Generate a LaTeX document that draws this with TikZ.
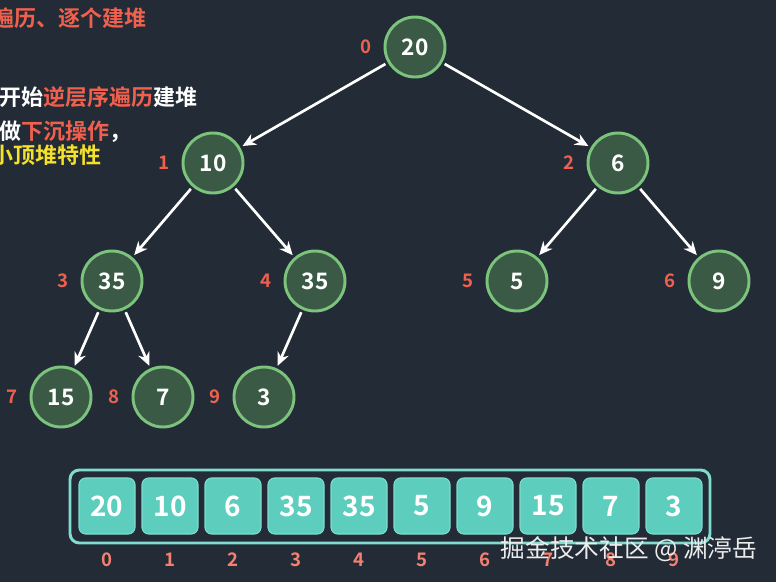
\documentclass[tikz,border=0pt]{standalone}
\usepackage{fontspec}
\setmainfont{Noto Sans CJK SC}[BoldFont={Noto Sans CJK SC Bold}]
\usetikzlibrary{arrows.meta}
\definecolor{bg}{HTML}{222B36}
\definecolor{nfill}{HTML}{3B5A45}
\definecolor{nline}{HTML}{7CC47C}
\definecolor{ired}{HTML}{F0604D}
\definecolor{cell}{HTML}{5DCDBE}
\definecolor{cellb}{HTML}{7FDCCF}
\definecolor{yel}{HTML}{F5E02A}
\begin{document}
\begin{tikzpicture}[x=0.75pt,y=-0.75pt,
  hn/.style={circle,draw=nline,line width=2.2pt,fill=nfill,text=white,font=\bfseries\fontsize{17}{17}\selectfont,inner sep=0pt,minimum size=45pt},
  idx/.style={text=ired,font=\bfseries\fontsize{14}{14}\selectfont},
  ar/.style={draw=white,line width=2pt,-{Stealth[length=10pt,width=9pt]},shorten <=2pt,shorten >=2pt},
  cl/.style={rounded corners=5pt,fill=cell,draw=cellb,line width=0.8pt,minimum width=42pt,minimum height=42pt,text=white,font=\bfseries\fontsize{21}{21}\selectfont,inner sep=0pt},
  t/.style={anchor=west,font=\bfseries\fontsize{16.5}{16.5}\selectfont}]
\fill[bg] (0,0) rectangle (776,582);
\clip (0,0) rectangle (776,582);
\node[t,text=ired] (h) at (-12,18) {遍历、逐个建堆};
\node[t,text=white] (l1) at (-5,97) {开始\textcolor{ired}{逆层序遍历}建堆};
\node[t,text=white] (l2) at (-5,132) {做\textcolor{ired}{下沉操作}，};
\node[t,text=yel] (l3) at (-13,155) {小顶堆特性};
\foreach \n/\x/\y/\v/\i in {a/415/47/20/0,b/213/163/10/1,c/618/163/6/2,d/112/281/35/3,e/315/281/35/4,f/517/281/5/5,g/719/281/9/6,h1/61/397/15/7,i/163/397/7/8,j/264/397/3/9}{
  \node[hn] (\n) at (\x,\y) {\v};
  \node[idx] (\n l) at (\x-49,\y) {\i};
}
\draw[ar] (a) -- (b); \draw[ar] (a) -- (c);
\draw[ar] (b) -- (d); \draw[ar] (b) -- (e);
\draw[ar] (c) -- (f); \draw[ar] (c) -- (g);
\draw[ar] (d) -- (h1); \draw[ar] (d) -- (i);
\draw[ar] (e) -- (j);
\draw[draw=cellb,line width=2.2pt,rounded corners=7pt] (70,470) rectangle (710,543);
\foreach \v [count=\k from 0] in {20,10,6,35,35,5,9,15,7,3}{
  \node[cl] (c\k) at (107+63*\k,506) {\v};
  \node[idx,text=ired!80!white] (n\k) at (107+63*\k,560) {\k};
}
\node[text=white!85!gray,font=\fontsize{18.5}{18.5}\selectfont,anchor=east] (wm) at (762,549) {掘金技术社区 @ 渊渟岳};
\end{tikzpicture}
\end{document}
